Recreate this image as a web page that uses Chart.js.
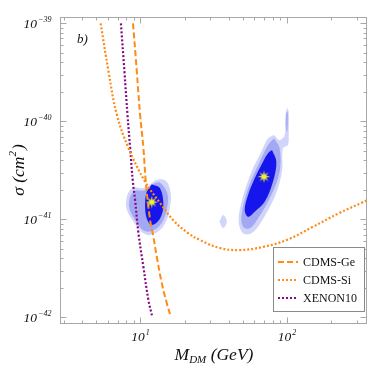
<!DOCTYPE html>
<html>
<head>
<meta charset="utf-8">
<script src="https://cdn.jsdelivr.net/npm/chart.js@4"></script>
<style>html,body{margin:0;padding:0;background:#fff}canvas{display:block}</style>
</head>
<body>
<canvas id="c" width="374" height="374"></canvas>
<script>
// ---- data (mass in GeV, cross-section in cm^2) ----
const cdmsGeMass  = [8.9, 9.45, 9.95, 10.48, 10.88, 11.64, 12.26, 12.93, 13.98, 15.12, 16.18];
const cdmsGeSigma = [1e-39, 3.21e-40, 1.16e-40, 5.34e-41, 2.42e-41, 9.84e-42, 6.64e-42, 4.15e-42, 2.24e-42, 1.40e-42, 1.0e-42];
const cdmsSiMass  = [5.35, 6.06, 6.91, 8.29, 10.76, 13.61, 16.7, 21.1, 25.5, 34.8, 47.6, 68.4, 99.5, 149.5, 228, 322, 353];
const cdmsSiSigma = [1e-39, 3.21e-40, 1.16e-40, 5.34e-41, 2.42e-41, 1.47e-41, 9.84e-42, 7.25e-42, 6.15e-42, 5.1e-42, 4.86e-42, 5.22e-42, 6.15e-42, 8.35e-42, 1.16e-41, 1.47e-41, 1.57e-41];
const xenonMass   = [7.36, 7.78, 8.16, 8.51, 8.88, 9.20, 9.69, 10.48, 11.34, 12.07];
const xenonSigma  = [1e-39, 3.21e-40, 1.16e-40, 5.34e-41, 2.42e-41, 1.57e-41, 7.25e-42, 3.26e-42, 1.50e-42, 1e-42];

// contour regions
const leftOuterMass  = [11.05, 12.26, 13.61, 15.12, 16.1, 15.92, 15.12, 13.61, 11.64, 10.48, 9.69, 8.51, 7.99, 8.08, 8.51, 9.20, 10.22];
const leftOuterSigma = [2.12e-41, 2.42e-41, 2.56e-41, 2.42e-41, 1.84e-41, 1.345e-41, 9.84e-42, 7.78e-42, 6.92e-42, 7.2e-42, 8.09e-42, 1.063e-41, 1.345e-41, 1.70e-41, 1.99e-41, 2.12e-41, 2.07e-41];
const leftMidMass    = [11.05, 12.26, 13.61, 15.26, 15.26, 14.34, 12.93, 11.34, 10.22, 9.20, 8.41, 8.51, 9.20, 10.22];
const leftMidSigma   = [1.99e-41, 2.29e-41, 2.36e-41, 1.84e-41, 1.345e-41, 9.84e-42, 8.09e-42, 7.47e-42, 7.9e-42, 9.84e-42, 1.29e-41, 1.70e-41, 1.96e-41, 1.96e-41];
const leftCoreMass   = [11.96, 13.61, 14.34, 13.61, 11.96, 11.05, 10.76, 11.05];
const leftCoreSigma  = [2.28e-41, 2.07e-41, 1.40e-41, 1.02e-41, 8.75e-42, 1.02e-41, 1.40e-41, 1.91e-41];
const rightOuterMass  = [81.6, 89.2, 96.8, 97.0, 100, 102.8, 102.8, 101.6, 93.9, 92.5, 82.5, 66.9, 57.3, 50.2, 46.9, 49.0, 57.3, 66.9, 74.3];
const rightOuterSigma = [7.25e-41, 6.44e-41, 7.25e-41, 9.91e-41, 1.357e-40, 1.253e-40, 7.83e-41, 5.73e-41, 5.30e-41, 3.06e-41, 1.70e-41, 9.45e-42, 7.2e-42, 7.2e-42, 9.45e-42, 1.51e-41, 3.06e-41, 4.90e-41, 6.71e-41];
const rightMidMass    = [81.6, 89.2, 89.2, 78.3, 63.5, 55.8, 50.2, 49.0, 54.3, 65.2, 74.3];
const rightMidSigma   = [6.71e-41, 5.30e-41, 3.06e-41, 1.77e-41, 1.02e-41, 8.09e-42, 8.4e-42, 1.106e-41, 2.07e-41, 3.87e-41, 5.73e-41];
const rightCoreMass   = [79.1, 84.7, 80.3, 70.5, 60.3, 54.3, 51.5, 54.3, 60.3, 68.7, 74.3];
const rightCoreSigma  = [5.09e-41, 3.87e-41, 2.42e-41, 1.51e-41, 1.196e-41, 1.063e-41, 1.244e-41, 1.77e-41, 2.62e-41, 3.87e-41, 4.72e-41];
const tailMidMass     = [98.8, 100.9, 101.3, 100.6, 99.3, 98.8];
const tailMidSigma    = [1.22e-40, 1.25e-40, 1.031e-40, 7.9e-41, 7.9e-41, 1.031e-40];
const islandMass      = [34.6, 36.7, 38.9, 36.7];
const islandSigma     = [9.45e-42, 1.106e-41, 9.45e-42, 8.15e-42];

// best-fit points
const bestFitMass  = [11.96, 69.7];
const bestFitSigma = [1.50e-41, 2.72e-41];

// axes / ticks
const xMin = 2.87, xMax = 352, yMin = 8.55e-43, yMax = 1.16e-39;
const xMajorTicks = [10, 100];
const xTickExponents = ['1', '2'];
const xMinorTicks = [3, 4, 5, 6, 7, 8, 9, 20, 30, 40, 50, 60, 70, 80, 90, 200, 300];
const yMajorTicks = [1e-42, 1e-41, 1e-40, 1e-39];
const yTickExponents = ['\u221242', '\u221241', '\u221240', '\u221239'];
const yMinorTicks = [2e-42,3e-42,4e-42,5e-42,6e-42,7e-42,8e-42,9e-42,2e-41,3e-41,4e-41,5e-41,6e-41,7e-41,8e-41,9e-41,2e-40,3e-40,4e-40,5e-40,6e-40,7e-40,8e-40,9e-40];
const seriesLabels = ['CDMS-Ge', 'CDMS-Si', 'XENON10'];
const panelLabel = 'b)';

// ---- helpers ----
const pts = (xs, ys) => xs.map((x, i) => ({x, y: ys[i]}));
const closed = (xs, ys) => { const p = pts(xs, ys); p.push(p[0]); return p; };
const LIGHT = '#d2d5fa', MID = '#a2a9f2', DARK = '#1616ec';
const ORANGE = '#ff8a14', PURPLE = '#850a85';
const SERIF = "'Liberation Serif','DejaVu Serif',serif";

function region(data, color, order) {
  return {data, borderWidth: 0, borderColor: color, backgroundColor: color, fill: 'shape',
          pointRadius: 0, tension: 0.35, order, isRegion: true};
}
function makeStar() {
  const c = document.createElement('canvas'); c.width = 13; c.height = 13;
  const g = c.getContext('2d');
  g.fillStyle = '#f2f232';
  g.beginPath();
  for (let i = 0; i < 16; i++) {
    const r = i % 2 ? 2.3 : 6.2, a = Math.PI * i / 8 - Math.PI / 2;
    g.lineTo(6.5 + r * Math.cos(a), 6.5 + r * Math.sin(a));
  }
  g.closePath(); g.fill();
  return c;
}

const datasets = [
  {label: 'best fit', data: pts(bestFitMass, bestFitSigma), showLine: false, pointStyle: makeStar(), pointRadius: 6, order: 0, isRegion: true},
  {label: seriesLabels[0], data: pts(cdmsGeMass, cdmsGeSigma), borderColor: ORANGE, borderWidth: 2, borderDash: [6, 3], pointRadius: 0, tension: 0.4, fill: false, order: 1},
  {label: seriesLabels[1], data: pts(cdmsSiMass, cdmsSiSigma), borderColor: ORANGE, borderWidth: 2.2, borderDash: [2, 2], pointRadius: 0, tension: 0.4, fill: false, order: 1},
  {label: seriesLabels[2], data: pts(xenonMass, xenonSigma), borderColor: PURPLE, borderWidth: 2.2, borderDash: [2, 2], pointRadius: 0, tension: 0.4, fill: false, order: 1},
  region(closed(leftCoreMass, leftCoreSigma), DARK, 2),
  region(closed(rightCoreMass, rightCoreSigma), DARK, 2),
  region(closed(leftMidMass, leftMidSigma), MID, 3),
  region(closed(rightMidMass, rightMidSigma), MID, 3),
  region(closed(tailMidMass, tailMidSigma), MID, 3),
  region(closed(leftOuterMass, leftOuterSigma), LIGHT, 4),
  region(closed(rightOuterMass, rightOuterSigma), LIGHT, 4),
  region(closed(islandMass, islandSigma), LIGHT, 4)
];

function line(ctx, x1, y1, x2, y2) { ctx.beginPath(); ctx.moveTo(x1, y1); ctx.lineTo(x2, y2); ctx.stroke(); }
function powLabel(ctx, base, exp, x, y, align, size) {
  ctx.font = 'italic ' + size + 'px ' + SERIF;
  const wb = ctx.measureText(base).width;
  const es = Math.round(size * 0.62);
  ctx.font = 'italic ' + es + 'px ' + SERIF;
  const we = ctx.measureText(exp).width;
  let x0 = align === 'right' ? x - wb - we - 1 : x - (wb + we + 1) / 2;
  ctx.textAlign = 'left'; ctx.textBaseline = 'alphabetic';
  ctx.font = 'italic ' + size + 'px ' + SERIF;
  ctx.fillText(base, x0, y);
  ctx.font = 'italic ' + es + 'px ' + SERIF;
  ctx.fillText(exp, x0 + wb + 1, y - size * 0.42);
}

const framePlugin = {
  id: 'frame',
  afterDatasetsDraw(chart) {
    const {ctx, chartArea: a, scales: {x, y}} = chart;
    ctx.save();
    ctx.strokeStyle = '#a8a8a8'; ctx.lineWidth = 1;
    ctx.strokeRect(Math.round(a.left) - 0.5, Math.round(a.top) + 0.5, Math.round(a.right - a.left), Math.round(a.bottom - a.top) - 1);
    const L = Math.round(a.left) - 0.5, R = Math.round(a.right) - 0.5, T = Math.round(a.top) + 0.5, B = Math.round(a.bottom) - 0.5;
    const xt = (v, len) => { const p = Math.round(x.getPixelForValue(v)) + 0.5; line(ctx, p, B, p, B - len); line(ctx, p, T, p, T + len); };
    const yt = (v, len) => { const p = Math.round(y.getPixelForValue(v)) + 0.5; line(ctx, L, p, L + len, p); line(ctx, R, p, R - len, p); };
    xMinorTicks.forEach(v => xt(v, 3));
    xMajorTicks.forEach(v => xt(v, 6));
    yMinorTicks.forEach(v => yt(v, 3));
    yMajorTicks.forEach(v => yt(v, 6));
    // tick labels
    ctx.fillStyle = '#111';
    yMajorTicks.forEach((v, i) => powLabel(ctx, '10', yTickExponents[i], L - 9, y.getPixelForValue(v) + 4.5, 'right', 13.5));
    xMajorTicks.forEach((v, i) => powLabel(ctx, '10', xTickExponents[i], x.getPixelForValue(v), a.bottom + 17, 'center', 13.5));
    // panel label
    ctx.font = 'italic 13px ' + SERIF; ctx.textAlign = 'left';
    ctx.fillText(panelLabel, 77, 43);
    // x title: M_DM (GeV)
    const cx = (a.left + a.right) / 2, by = 360;
    ctx.font = 'italic 17.5px ' + SERIF; const wM = ctx.measureText('M').width;
    ctx.font = 'italic 11px ' + SERIF; const wD = ctx.measureText('DM').width;
    ctx.font = 'italic 17.5px ' + SERIF; const wG = ctx.measureText(' (GeV)').width;
    let x0 = cx - (wM + wD + wG) / 2;
    ctx.fillText('M', x0, by);
    ctx.font = 'italic 11px ' + SERIF; ctx.fillText('DM', x0 + wM, by + 3);
    ctx.font = 'italic 17.5px ' + SERIF; ctx.fillText(' (GeV)', x0 + wM + wD, by);
    // y title: sigma (cm^2)
    ctx.translate(24, (a.top + a.bottom) / 2);
    ctx.rotate(-Math.PI / 2);
    ctx.font = 'italic 17.5px ' + SERIF; const w1 = ctx.measureText('\u03C3 (cm').width;
    ctx.font = 'italic 11px ' + SERIF; const w2 = ctx.measureText('2').width;
    ctx.font = 'italic 17.5px ' + SERIF; const w3 = ctx.measureText(')').width;
    let y0 = -(w1 + w2 + w3) / 2;
    ctx.fillText('\u03C3 (cm', y0, 0);
    ctx.font = 'italic 11px ' + SERIF; ctx.fillText('2', y0 + w1, -8);
    ctx.font = 'italic 17.5px ' + SERIF; ctx.fillText(')', y0 + w1 + w2 + 1, 0);
    ctx.restore();
  },
  afterDraw(chart) {
    const {ctx} = chart;
    const items = chart.data.datasets.filter(d => !d.isRegion);
    const bx = 273.5, by = 247.5, bw = 91, bh = 64;
    ctx.save();
    ctx.fillStyle = '#fff'; ctx.fillRect(bx, by, bw, bh);
    ctx.strokeStyle = '#8a8a8a'; ctx.lineWidth = 1; ctx.strokeRect(bx, by, bw, bh);
    items.forEach((d, i) => {
      const ry = 262 + i * 18;
      ctx.strokeStyle = d.borderColor; ctx.lineWidth = 2; ctx.setLineDash(d.borderDash || []);
      line(ctx, 278, ry, 298, ry);
      ctx.setLineDash([]);
      ctx.fillStyle = '#111'; ctx.font = '12px ' + SERIF; ctx.textAlign = 'left'; ctx.textBaseline = 'middle';
      ctx.fillText(d.label, 303, ry + 0.5);
    });
    ctx.restore();
  }
};

new Chart(document.getElementById('c'), {
  type: 'line',
  data: {datasets},
  options: {
    responsive: false, animation: false, events: [],
    layout: {padding: {left: 0, right: 6, top: 17, bottom: 0}},
    plugins: {legend: {display: false}, tooltip: {enabled: false}},
    scales: {
      x: {type: 'logarithmic', min: xMin, max: xMax, ticks: {display: false}, grid: {display: false}, border: {display: false},
          afterFit(s) { s.height = 50; }},
      y: {type: 'logarithmic', min: yMin, max: yMax, ticks: {display: false}, grid: {display: false}, border: {display: false},
          afterFit(s) { s.width = 61; }}
    }
  },
  plugins: [framePlugin]
});
</script>
</body>
</html>
